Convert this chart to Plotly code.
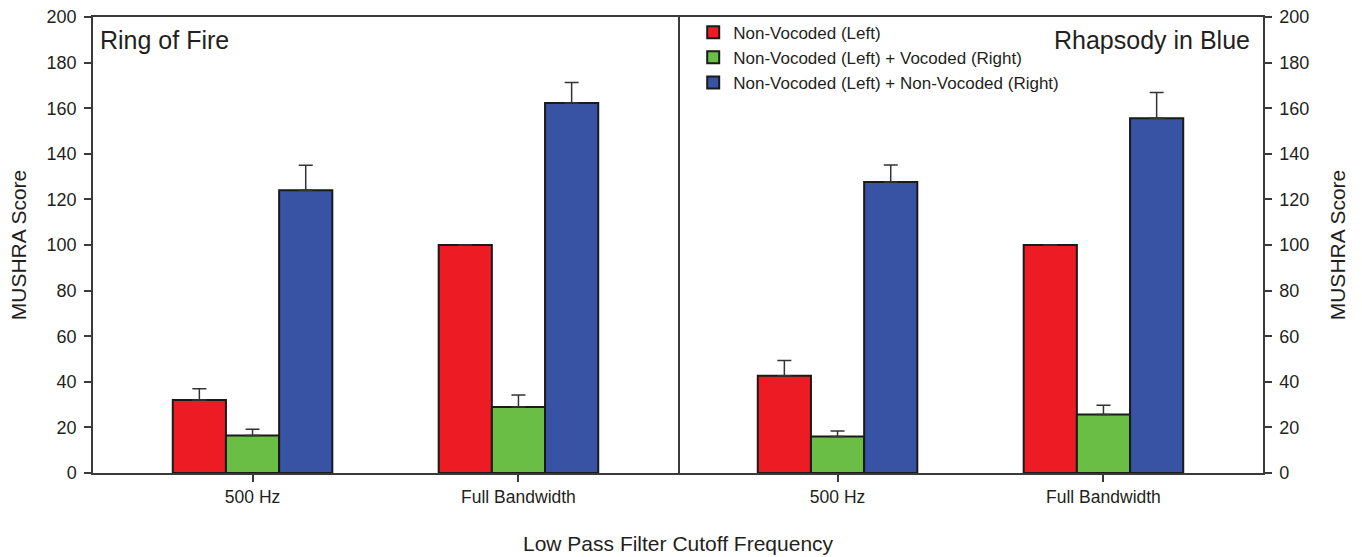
import plotly.graph_objects as go

categories = ["500 Hz", "Full Bandwidth"]
series_names = ["Non-Vocoded (Left)",
                "Non-Vocoded (Left) + Vocoded (Right)",
                "Non-Vocoded (Left) + Non-Vocoded (Right)"]
series_colors = ["#ED1C24", "#6ABD45", "#3953A4"]

# Ring of Fire
ring_nonvoc = [32, 100]
ring_nonvoc_err = [5, 0]
ring_voc = [16.5, 29]
ring_voc_err = [2.7, 5.2]
ring_both = [124, 162.3]
ring_both_err = [11, 9]

# Rhapsody in Blue
rhap_nonvoc = [42.7, 100]
rhap_nonvoc_err = [6.6, 0]
rhap_voc = [16, 25.7]
rhap_voc_err = [2.4, 4]
rhap_both = [127.6, 155.6]
rhap_both_err = [7.5, 11.3]

y_ticks = [0, 20, 40, 60, 80, 100, 120, 140, 160, 180, 200]

FONT = "Liberation Sans, Arial, sans-serif"
TXT = "#231F20"
AX = "#3a3a3a"

fig = go.Figure()

panels = [
    ("x", "y", [ring_nonvoc, ring_voc, ring_both], [ring_nonvoc_err, ring_voc_err, ring_both_err], True),
    ("x2", "y2", [rhap_nonvoc, rhap_voc, rhap_both], [rhap_nonvoc_err, rhap_voc_err, rhap_both_err], False),
]
for xa, ya, vals, errs, show in panels:
    for name, col, v, e in zip(series_names, series_colors, vals, errs):
        fig.add_trace(go.Bar(
            x=categories, y=v, name=name, legendgroup=name, showlegend=show,
            xaxis=xa, yaxis=ya,
            marker=dict(color=col, line=dict(color="#1a1a1a", width=2)),
            error_y=dict(type="data", array=e, arrayminus=[0] * len(e), symmetric=False,
                         color="#333333", thickness=1.5, width=7),
        ))

line_common = dict(showline=True, linecolor=AX, linewidth=1.5,
                   showgrid=False, zeroline=False, automargin=False)
xtick_common = dict(type="category", range=[-0.6, 1.6], ticks="outside", ticklen=7,
                    tickcolor=AX, tickwidth=1.5, tickfont=dict(size=17.5), mirror=True)
ytick_common = dict(range=[0, 200], tickvals=y_ticks, ticks="outside", ticklen=7,
                    tickcolor=AX, tickwidth=1.5, tickfont=dict(size=18), ticklabelstandoff=4)

fig.update_layout(
    width=1362, height=557,
    margin=dict(l=93, r=99, t=17, b=84),
    paper_bgcolor="white", plot_bgcolor="white",
    font=dict(family=FONT, color=TXT, size=18),
    barmode="group", bargap=0.4, bargroupgap=0,
    xaxis=dict(domain=[0, 0.5], anchor="y", **xtick_common, **line_common),
    xaxis2=dict(domain=[0.5, 1], anchor="y2", **xtick_common, **line_common),
    yaxis=dict(anchor="x", mirror=True,
               title=dict(text="MUSHRA Score", font=dict(size=21), standoff=14),
               **ytick_common, **line_common),
    yaxis2=dict(anchor="x2", side="right", mirror=False,
                title=dict(text="MUSHRA Score", font=dict(size=21), standoff=22),
                **ytick_common, **line_common),
    legend=dict(x=0.513, y=1.005, xanchor="left", yanchor="top",
                bgcolor="rgba(0,0,0,0)", font=dict(size=17), tracegroupgap=0,
                traceorder="normal"),
    annotations=[
        dict(text="Ring of Fire", xref="x domain", yref="y domain", x=0.009, y=0.95,
             xanchor="left", yanchor="middle", showarrow=False, font=dict(size=25)),
        dict(text="Rhapsody in Blue", xref="x2 domain", yref="y2 domain", x=0.982, y=0.95,
             xanchor="right", yanchor="middle", showarrow=False, font=dict(size=25)),
        dict(text="Low Pass Filter Cutoff Frequency", xref="paper", yref="paper",
             x=0.5, y=0, yshift=-70, xanchor="center", yanchor="middle",
             showarrow=False, font=dict(size=21)),
    ],
)

fig.write_html("out.html")
